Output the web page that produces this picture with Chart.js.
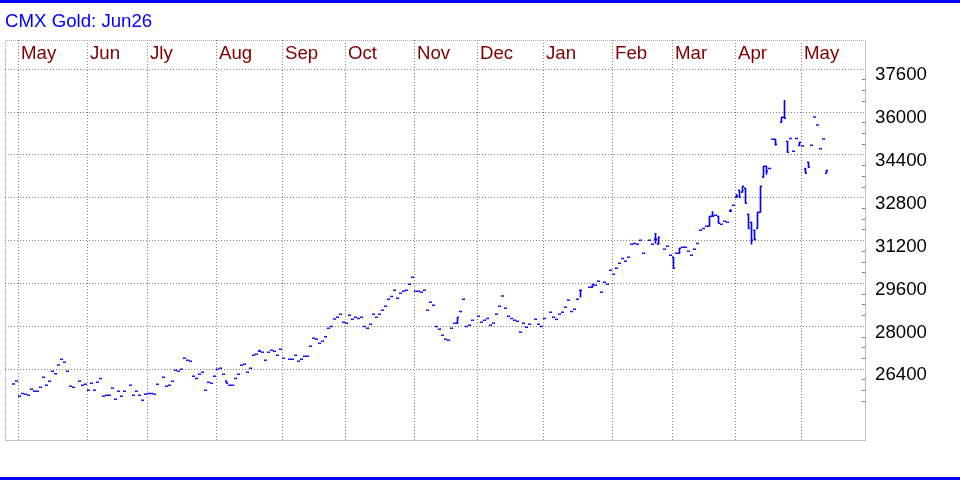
<!DOCTYPE html>
<html>
<head>
<meta charset="utf-8">
<title>CMX Gold: Jun26</title>
<script src="https://cdn.jsdelivr.net/npm/chart.js@4.4.1/dist/chart.umd.min.js"></script>
<style>
  html, body { margin: 0; padding: 0; background: #fff; }
  #frame { width: 960px; height: 480px; box-sizing: border-box; border-top: 3px solid #0000ff; border-bottom: 3px solid #0000ff; }
  canvas { display: block; }
</style>
</head>
<body>
<div id="frame"><canvas id="chart" width="960" height="474"></canvas></div>
<script>
const chartTitle = 'CMX Gold: Jun26';

// one slot per weekday, starting Tue 29 Apr 2025 (holidays left empty)
const monthNames = ['May', 'Jun', 'Jly', 'Aug', 'Sep', 'Oct', 'Nov', 'Dec', 'Jan', 'Feb', 'Mar', 'Apr', 'May'];
const monthStartSlot = [2, 25, 45, 68, 90, 111, 134, 155, 177, 200, 220, 241, 263];

const priceLabels = [26400, 28000, 29600, 31200, 32800, 34400, 36000, 37600];

// settlement (close) per slot
const closes = [
  25850, 25960, 25390, 25500, 25470, 25430, 25650, 25580, 25580, 25730, 26100, 25800, 25950, 26330, 26230, 26560, 26770, 26660, 26330, 25770,
  25730, null, 25950, 25800, 25840, 25620, 25880, 25620, 25920, 26060, 25390, 25430, 25430, 25690, 25280, 25580, 25390, 25580, null, 25800,
  25430, 25580, 25430, 25240, 25470, 25500, 25500, 25470, 25840, null, 26100, 25770, 25800, 25950, 26360, 26330, 26400, 26810, 26740, 26700,
  26140, 26060, 26210, 26290, 25620, 25920, 25880, 26140, 26400, 26440, 26210, 25880, 25800, 25800, 26060, 26210, 26550, 26590, 26290, 26440,
  26920, 26960, 27070, 27040, 26740, 27040, 27110, 27070, 26920, 27150, 26810, null, 26770, 26770, 26920, 26700, 26770, 26890, 26890, 27260,
  27560, 27520, 27370, 27450, 27610, 27930, 28000, 28280, 28340, 28450, 28160, 28120, 28420, 28270, 28340, 28300, 28340, 28000, 27930, 28080,
  28450, 28340, 28450, 28600, 28750, 29010, 29120, 29350, 29050, 29240, 29310, 29350, 29570, 29840, 29310, 29310, 29280, 29350, 28600, 28900,
  28790, 28000, 27890, 27670, 27520, 27480, 27930, 28120, 28340, 28560, 29010, 28000, 28040, 28230, null, 28380, 28160, 28230, 28300, 28040,
  28120, 28450, 28750, 29140, 28680, 28380, 28300, 28230, 28190, 27780, 28120, 27970, 28080, null, 28270, 28080, 28000, 28300, null, 28530,
  28340, 28270, 28450, 28530, 28720, 28980, 28560, 28640, 29010, 29350, null, null, 29460, 29570, 29540, 29690, 29280, 29650, 29570, 30100,
  29950, 30170, 30360, 30540, 30430, 30580, 31070, 31100, 31070, 31220, 30730, null, 31220, 31070, 31250, 31330, null, 30880, 30990, 30660,
  30170, 30730, 30920, 30960, 30960, 30810, 30660, 30880, 31100, 31590, 31660, 31740, 32110, 32110, 32150, 31850, 31810, 31930, 31890, 32300,
  32520, 32860, 32820, 33230, 32600, 31660, 31220, 31250, 32260, 33230, 33980, 33790, 33900, 34990, 34800, null, 35810, 35770, 34500, 35020,
  34540, 35020, 34880, 34740, 33720, 33940, 34760, 35820, 35520, 34630, 35000, 33830
];

// the bars that have a visible high-low range (all others are flat)
const rangeSlot = [71, 82, 148, 189, 193, 214, 215, 220, 222, 232, 233, 235, 239, 241, 242, 243,
  244, 245, 246, 247, 248, 249, 250, 251, 254, 256, 257, 258, 262, 264, 265, 271];
const rangeOpen = [25960, 27070, 28120, 29350, 29460, 31250, 31070, 30580, 30730, 31740, 32110, 32110, 32300, 32820, 33080, 33010,
  33160, 32190, 31890, 31590, 31660, 32260, 33570, 33980, 34990, 35620, 35810, 34910, 34750, 33900, 34130, 33720];
const rangeHigh = [25960, 27120, 28340, 29350, 29570, 31480, 31330, 30580, 30920, 32110, 32290, 32110, 32370, 32930, 33080, 33230,
  33160, 32190, 31890, 31590, 32260, 33230, 33980, 33980, 34990, 35810, 36440, 34910, 34880, 33900, 34130, 33830];
const rangeLow = [25880, 27070, 28120, 29090, 29460, 31100, 31070, 30170, 30730, 31740, 32110, 31850, 32300, 32820, 32820, 33010,
  32600, 31660, 31070, 31220, 31660, 32260, 33570, 33680, 34760, 35620, 35770, 34500, 34750, 33720, 33940, 33720];

const BLUE = '#0000ff';
const GRID = '#808080';
const FRAME = '#a8a8a8';
const xMin = -17 / 6;
const xMax = 1703 / 6;
const yMin = 23760;
const yMax = 38693;

const opens = closes.slice();
rangeSlot.forEach((s, k) => { opens[s] = rangeOpen[k]; });

// right axis: labelled gridlines every 1600, small ticks every 400
const yTicks = [];
for (let v = 25200; v <= 37600; v += 400) yTicks.push(v);
yTicks.push(yMax);
const isLine = v => priceLabels.includes(v) || v === yMax;

Chart.defaults.font.family = "Arial, 'Liberation Sans', sans-serif";

new Chart(document.getElementById('chart'), {
  type: 'line',
  data: {
    datasets: [
      {
        type: 'bar',
        label: 'Range',
        data: rangeSlot.map((s, k) => ({ x: s, y: [rangeLow[k], rangeHigh[k]] })),
        backgroundColor: BLUE,
        barThickness: 1,
        grouped: false
      },
      {
        label: 'Open',
        data: opens.map((v, s) => ({ x: s, y: v })),
        showLine: false,
        pointStyle: 'dash',
        pointRotation: 180,
        pointRadius: 1.5,
        pointHoverRadius: 1.5,
        pointBorderWidth: 1.5,
        pointBorderColor: BLUE
      },
      {
        label: 'Close',
        data: closes.map((v, s) => ({ x: s, y: v })),
        showLine: false,
        pointStyle: 'dash',
        pointRotation: 0,
        pointRadius: 1.5,
        pointHoverRadius: 1.5,
        pointBorderWidth: 1.5,
        pointBorderColor: BLUE
      }
    ]
  },
  options: {
    responsive: false,
    animation: false,
    events: [],
    layout: { padding: { left: 5, right: 0, top: 0, bottom: 37 } },
    plugins: {
      legend: { display: false },
      tooltip: { enabled: false },
      title: {
        display: true,
        text: chartTitle,
        align: 'start',
        color: BLUE,
        font: { size: 18.67, weight: 'normal' },
        padding: { top: 7.2, bottom: 7.4 }
      }
    },
    scales: {
      x: {
        type: 'linear',
        position: 'top',
        min: xMin,
        max: xMax,
        offset: false,
        afterBuildTicks: scale => {
          scale.ticks = [{ value: xMin }].concat(monthStartSlot.map(s => ({ value: s - 0.5 })));
        },
        afterFit: scale => { scale.height = 0; },
        grid: {
          color: c => (c.tick && c.tick.value === xMin ? FRAME : GRID),
          lineWidth: 1,
          drawTicks: false,
          offset: false
        },
        border: { display: false, dash: c => (c.tick && c.tick.value === xMin ? [1, 1] : [1, 2]) },
        ticks: {
          autoSkip: false,
          maxRotation: 0,
          mirror: true,
          align: 'start',
          padding: 2.3,
          labelOffset: 3,
          color: '#800000',
          font: { size: 18.67 },
          callback: (v, i) => (i === 0 ? '' : monthNames[i - 1])
        }
      },
      xBottom: {
        type: 'linear',
        position: 'bottom',
        min: xMin,
        max: xMax,
        afterFit: scale => { scale.height = 0; },
        grid: { display: false },
        ticks: { display: false },
        border: { display: true, color: '#c0c0c0', width: 1 }
      },
      y: {
        type: 'linear',
        position: 'right',
        min: yMin,
        max: yMax,
        afterBuildTicks: scale => { scale.ticks = yTicks.map(v => ({ value: v })); },
        afterFit: scale => { scale.width = 95; },
        grid: {
          color: c => {
            if (!c.tick || !isLine(c.tick.value)) return 'transparent';
            return c.tick.value === yMax ? FRAME : GRID;
          },
          tickColor: c => (c.tick && isLine(c.tick.value) ? 'transparent' : GRID),
          tickLength: -3,
          drawTicks: true
        },
        border: {
          color: '#c0c0c0',
          width: 1,
          dash: c => (c.tick && c.tick.value === yMax ? [1, 1] : [1, 2])
        },
        ticks: {
          autoSkip: false,
          padding: 13,
          labelOffset: 6,
          color: '#000000',
          font: { size: 18.67 },
          callback: v => (priceLabels.includes(v) ? String(v) : '')
        }
      }
    }
  }
});
</script>
</body>
</html>
